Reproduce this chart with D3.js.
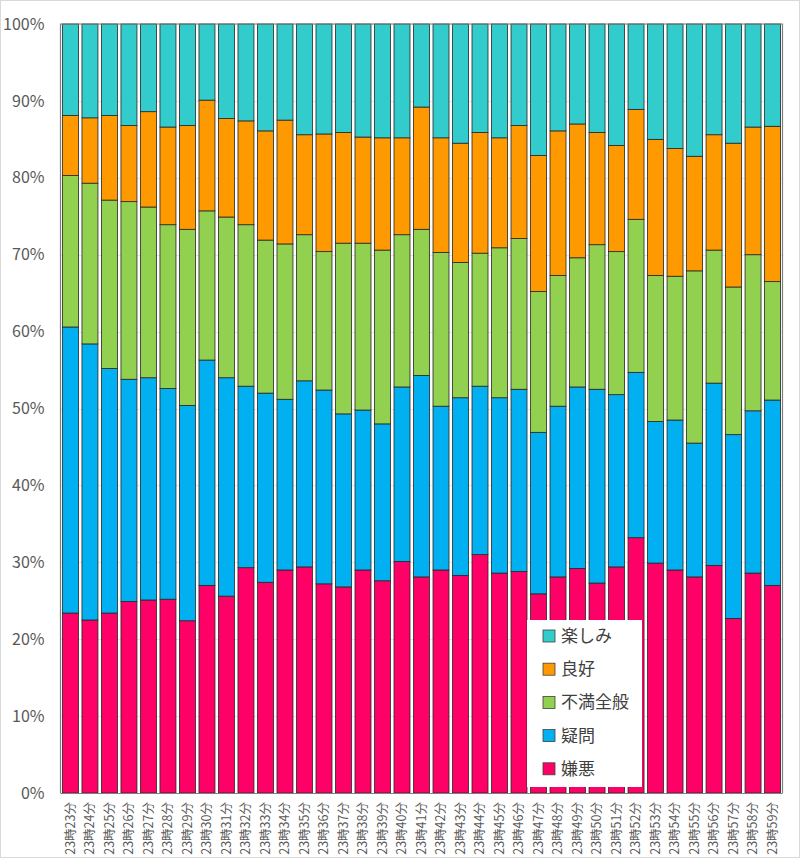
<!DOCTYPE html>
<html><head><meta charset="utf-8">
<script src="https://cdn.jsdelivr.net/npm/d3@7"></script>
<style>
html,body{margin:0;padding:0;background:#fff;}
svg{display:block;font-family:"Noto Sans CJK JP","Noto Sans",sans-serif;}
</style></head>
<body>
<svg id="chart" width="800" height="858"></svg>
<script>
const categories = ["23時23分","23時24分","23時25分","23時26分","23時27分","23時28分","23時29分","23時30分","23時31分","23時32分","23時33分","23時34分","23時35分","23時36分","23時37分","23時38分","23時39分","23時40分","23時41分","23時42分","23時43分","23時44分","23時45分","23時46分","23時47分","23時48分","23時49分","23時50分","23時51分","23時52分","23時53分","23時54分","23時55分","23時56分","23時57分","23時58分","23時59分"];
const seriesNames = ["嫌悪","疑問","不満全般","良好","楽しみ"];
const kenoValues   = [23.4,22.5,23.4,24.9,25.1,25.2,22.4,27.0,25.6,29.3,27.4,29.0,29.4,27.2,26.8,29.0,27.6,30.1,28.1,29.0,28.3,31.0,28.6,28.8,25.9,28.1,29.2,27.3,29.4,33.2,29.9,29.0,28.1,29.6,22.7,28.6,27.0];
const gimonValues  = [37.2,35.9,31.8,28.9,28.9,27.4,28.0,29.3,28.4,23.6,24.6,22.2,24.2,25.2,22.5,20.8,20.4,22.7,26.2,21.3,23.1,21.9,22.8,23.7,21.0,22.2,23.6,25.2,22.4,21.5,18.4,19.5,17.4,23.7,23.9,21.1,24.1];
const fumanValues  = [19.7,20.9,21.9,23.1,22.2,21.3,22.9,19.4,20.9,21.0,19.9,20.2,19.0,18.0,22.2,21.7,22.6,19.8,19.0,20.0,17.6,17.3,19.5,19.6,18.3,17.0,16.8,18.8,18.6,19.9,19.0,18.7,22.4,17.3,19.2,20.3,15.4];
const ryokoValues  = [7.8,8.5,11.0,9.9,12.4,12.7,13.5,14.4,12.8,13.5,14.2,16.1,13.0,15.3,14.4,13.8,14.6,12.6,15.9,14.9,15.5,15.7,14.3,14.7,17.7,18.8,17.4,14.6,13.8,14.3,17.7,16.6,14.9,15.0,18.7,16.6,20.2];
const tanoValues   = [11.9,12.2,11.9,13.2,11.4,13.4,13.2,9.9,12.3,12.6,13.9,12.5,14.4,14.3,14.1,14.7,14.8,14.8,10.8,14.8,15.5,14.1,14.8,13.2,17.1,13.9,13.0,14.1,15.8,11.1,15.0,16.2,17.2,14.4,15.5,13.4,13.3];
const yTickValues = [0,0.1,0.2,0.3,0.4,0.5,0.6,0.7,0.8,0.9,1.0];
const yTickLabels = ["0%","10%","20%","30%","40%","50%","60%","70%","80%","90%","100%"];
const colors = ["#FF0066","#00B0F0","#92D050","#FF9900","#33CCCC"];

(function(){
const seriesValues = [kenoValues, gimonValues, fumanValues, ryokoValues, tanoValues];
const table = categories.map((c,i)=>{
  const row = {cat:c};
  seriesNames.forEach((s,j)=>row[s]=seriesValues[j][i]);
  return row;
});

const svg = d3.select("#chart");
const W=800,H=858;
const pL=60.5, pR=782.5, pT=24, pB=793;

svg.append("rect").attr("x",0.5).attr("y",0.5).attr("width",W-1).attr("height",H-1)
  .attr("fill","#fff").attr("stroke","#D9D9D9");

const x = d3.scaleBand().domain(categories).range([pL,pR]).paddingInner(0.18).paddingOuter(0.1);
const y = d3.scaleLinear().domain([0,1]).range([pB,pT]);

svg.append("g").selectAll("line").data(yTickValues).join("line")
  .attr("x1",pL).attr("x2",pR)
  .attr("y1",d=>Math.round(y(d))+0.5).attr("y2",d=>Math.round(y(d))+0.5)
  .attr("stroke","#E6E6E6").attr("stroke-width",1);

const stack = d3.stack().keys(seriesNames).offset(d3.stackOffsetExpand);
const stacked = stack(table);

svg.append("g").selectAll("g").data(stacked).join("g")
  .attr("fill",(d,i)=>colors[i])
  .selectAll("rect").data(d=>d).join("rect")
  .attr("x",d=>x(d.data.cat))
  .attr("width",x.bandwidth())
  .attr("y",d=>y(d[1]))
  .attr("height",d=>y(d[0])-y(d[1]))
  .attr("stroke","#262626").attr("stroke-width",0.8);

svg.append("path")
  .attr("d",`M${pL},${pB}V${pT}H${pR}V${pB}`)
  .attr("fill","none").attr("stroke","#7F7F7F").attr("stroke-width",1.2);
svg.append("line").attr("x1",pL).attr("x2",pR).attr("y1",pB+0.5).attr("y2",pB+0.5)
  .attr("stroke","#7F7F7F").attr("stroke-width",1.2);

const yAxis = d3.axisLeft(y).tickValues(yTickValues).tickFormat((d,i)=>yTickLabels[i]).tickSize(0).tickPadding(16);
const gy = svg.append("g").attr("transform",`translate(${pL},0)`).call(yAxis);
gy.select(".domain").remove();
gy.selectAll("text").attr("fill","#595959").style("font-size","16px")
  .style("font-family","'Noto Sans CJK JP',sans-serif");

const xAxis = d3.axisBottom(x).tickSize(0).tickPadding(0);
const gx = svg.append("g").attr("transform",`translate(0,${pB})`).call(xAxis);
gx.select(".domain").remove();
gx.selectAll("text")
  .attr("transform","rotate(-90)")
  .attr("x",-9).attr("y",0).attr("dy","0.35em")
  .attr("text-anchor","end")
  .attr("fill","#595959").style("font-size","12.5px")
  .style("font-family","'Noto Sans CJK JP',sans-serif");

const lg = svg.append("g");
lg.append("rect").attr("x",527).attr("y",620).attr("width",115).attr("height",167).attr("fill","#fff");
const legendOrder = seriesNames.map((s,i)=>({name:s,color:colors[i]})).reverse();
const items = lg.selectAll("g.item").data(legendOrder).join("g").attr("class","item")
  .attr("transform",(d,i)=>`translate(543,${636+i*33.2})`);
items.append("rect").attr("x",0).attr("y",-6).attr("width",12).attr("height",12)
  .attr("fill",d=>d.color).attr("stroke","#404040").attr("stroke-width",0.8);
items.append("text").attr("x",18).attr("y",0).attr("dy","0.35em")
  .attr("fill","#404040").style("font-size","17px").text(d=>d.name);
})();
</script>
</body></html>
